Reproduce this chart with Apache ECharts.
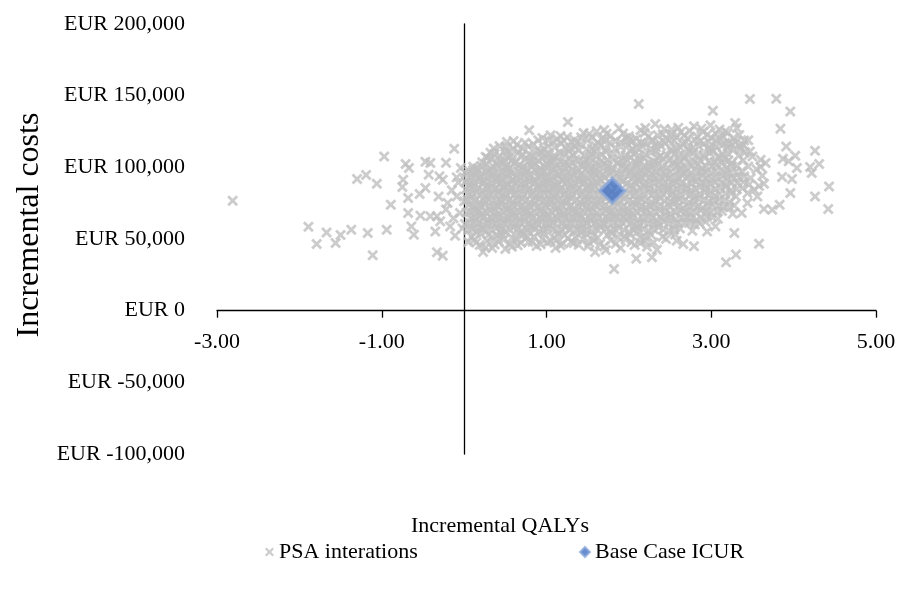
<!DOCTYPE html>
<html>
<head>
<meta charset="utf-8">
<title>PSA scatter</title>
<script src="https://cdn.jsdelivr.net/npm/echarts/dist/echarts.min.js"></script>
<style>
  html, body { margin: 0; padding: 0; background: #fff; }
  #main { width: 897px; height: 589px; }
</style>
</head>
<body>
<div id="main"></div>
<script>
// incremental QALYs, incremental costs (EUR thousand)
const leftTail = [
  [-2.81,76.7],[-1.89,58.6],[-1.79,46.5],[-1.67,54.6],[-1.56,47.2],[-1.5,52.8],[-1.37,56.5],[-1.17,54.2],
  [-1.11,38.6],[-0.94,56.5],[-1.3,91.9],[-1.19,94.7],[-1.06,88.6],[-0.97,107.6],[-0.89,73.9],[-0.71,102.3],
  [-0.67,99.5],[-0.74,91.4],[-0.75,86.3],[-0.68,78.6],[-0.68,68.1],[-0.64,58.8],[-0.61,53.0],[-0.47,103.9],
  [-0.41,103.0],[-0.22,103.2],[-0.12,113.0],[-0.43,94.9],[-0.3,93.7],[-0.26,91.4],[-0.09,93.0],[-0.54,81.4],
  [-0.47,85.6],[-0.31,79.7],[-0.53,66.3],[-0.41,65.8],[-0.33,65.8],[-0.29,62.3],[-0.35,55.3],[-0.17,58.8],
  [-0.11,52.3],[-0.33,40.7],[-0.26,38.4],[-0.09,79.7],[-0.05,68.1],[-0.04,99.6],[-0.07,89.4],[-0.15,84.0],
  [-0.2,75.2],[-0.13,64.5],[-0.02,57.4],[-0.22,70.6]
]

const psaCore = [
  // top fringe
  [0.79,125.8],[1.26,131.6],[2.12,144.2],[2.32,130.2],[1.45,124.0],[1.61,125.1],[1.73,123.5],[2.14,125.8],
  [1.05,122.4],[1.88,127.2],[2.41,123.1],[2.63,124.7],[2.95,122.8],[1.34,119.0],[0.52,117.7],[0.64,115.8],
  [0.95,120.5],[1.13,119.8],[1.25,121.2],[1.56,120.6],[1.96,120.5],[2.24,121.7],[2.71,120.2],[3.1,119.4],
  [2.05,118.3],[2.49,118.9],[2.86,118.1],[3.22,117.0],
  [1.02,118.8],[1.17,121.9],[1.3,117.8],[1.42,121.0],[1.52,123.3],[1.67,119.6],[1.78,121.8],[1.84,118.4],
  [1.93,123.6],[2.0,121.6],[2.09,119.9],[2.19,123.9],[2.28,119.1],[2.35,122.4],[2.45,120.3],[2.52,123.5],
  [2.58,120.8],[2.67,122.3],[2.74,125.3],[2.83,121.5],[2.9,124.6],[3.0,120.7],[3.05,123.8],[3.14,121.6],
  [3.2,124.0],[3.27,120.4],[3.34,122.6],[3.4,118.7],[2.43,126.8],[2.6,127.6],[2.88,127.0],[3.1,126.4],
  [2.2,127.4],[1.7,126.0],[2.99,129.3],[3.25,116.0],[3.38,115.9],[3.45,118.9],
  // 112 - 117
  [0.43,114.9],[0.71,113.0],[0.84,116.2],[0.92,111.1],[1.02,114.7],[1.18,116.8],[1.29,113.4],
  [1.41,116.1],[1.49,112.6],[1.66,115.3],[1.77,117.4],[1.83,113.2],[1.99,115.8],[2.1,113.6],[2.19,116.6],
  [2.33,114.1],[2.44,116.9],[2.57,113.3],[2.66,115.9],[2.78,113.8],[2.91,116.4],[3.0,113.0],[3.13,115.2],
  [3.27,112.2],
  // 107 - 112
  [0.26,107.4],[0.37,109.5],[0.49,111.3],[0.57,108.2],[0.66,110.7],[0.79,108.9],
  [0.88,111.6],[0.99,109.1],[1.08,107.5],[1.16,110.4],[1.32,108.7],[1.39,111.8],[1.54,109.4],[1.61,107.3],
  [1.72,110.9],[1.9,108.5],[2.02,111.0],[2.13,108.0],[2.27,110.2],[2.38,107.8],[2.52,110.9],[2.61,108.4],
  [2.73,111.2],[2.83,108.9],[2.98,110.3],[3.08,107.6],[3.2,109.8],[3.33,108.1],[3.41,110.5],
  // 103 - 107
  [0.22,103.6],[0.33,105.9],[0.44,104.0],[0.53,106.6],[0.62,103.3],[0.74,105.7],
  [0.83,103.9],[0.95,106.2],[1.04,104.3],[1.12,106.9],[1.22,103.5],[1.35,105.4],[1.45,103.9],[1.53,106.3],
  [1.67,104.6],[1.8,106.1],[1.87,103.2],[1.97,105.3],[2.08,103.8],[2.18,106.7],[2.3,104.2],[2.42,105.9],
  [2.56,103.4],[2.68,106.0],[2.79,104.1],[2.92,106.5],[3.04,103.7],[3.16,105.8],[3.25,103.1],[3.39,104.9],
  // 99 - 103
  [0.16,99.2],[0.27,102.1],[0.36,100.3],[0.47,102.6],[0.55,99.5],[0.67,101.4],[0.76,99.1],
  [0.87,102.3],[0.98,100.6],[1.06,102.8],[1.17,99.8],[1.27,101.6],[1.37,99.3],[1.5,102.0],[1.59,100.1],
  [1.7,102.5],[1.79,99.6],[1.92,101.3],[2.03,99.2],[2.12,101.9],[2.25,100.4],[2.35,102.7],[2.47,99.9],
  [2.59,101.5],[2.7,99.4],[2.84,102.2],[2.94,100.2],[3.07,101.8],[3.19,99.7],[3.31,101.3],[3.45,100.6],
  // 95 - 99
  [0.01,96.4],[0.11,98.2],[0.21,95.3],[0.3,97.6],[0.41,95.8],[0.51,98.4],[0.6,96.1],[0.71,98.0],
  [0.8,95.2],[0.91,97.3],[1.01,95.6],[1.1,98.5],[1.2,96.2],[1.31,98.1],[1.42,95.5],[1.52,97.8],
  [1.63,95.9],[1.74,98.3],[1.86,96.0],[1.95,98.6],[2.07,95.4],[2.16,97.5],[2.28,95.7],[2.39,98.2],
  [2.5,96.3],[2.62,98.0],[2.74,95.3],[2.87,97.6],[2.99,95.8],[3.12,98.1],[3.23,96.0],[3.37,97.3],
  // 91 - 95
  [0.04,92.1],[0.14,94.3],[0.24,91.2],[0.34,93.6],[0.45,91.8],[0.54,94.5],[0.64,92.0],[0.73,94.1],
  [0.85,91.4],[0.94,93.9],[1.04,91.6],[1.14,94.6],[1.24,92.3],[1.33,94.0],[1.45,91.3],[1.55,93.7],
  [1.65,91.9],[1.76,94.4],[1.89,92.2],[1.99,93.8],[2.1,91.5],[2.2,94.2],[2.31,92.0],[2.44,93.5],
  [2.54,91.2],[2.65,94.3],[2.77,92.1],[2.89,93.9],[3.01,91.6],[3.14,94.0],[3.27,92.4],[3.4,93.8],
  // 87 - 91
  [0.07,88.0],[0.18,90.3],[0.28,87.6],[0.39,89.8],[0.48,87.3],[0.58,90.5],[0.69,88.2],[0.79,90.1],
  [0.9,87.5],[0.99,89.7],[1.09,87.9],[1.19,90.4],[1.29,88.1],[1.4,90.2],[1.5,87.4],[1.6,89.6],
  [1.71,87.8],[1.92,89.9],[2.03,87.6],[2.13,90.6],[2.24,88.3],[2.36,90.0],[2.48,87.7],[2.58,89.5],
  [2.7,87.2],[2.82,90.2],[2.93,88.4],[3.05,89.8],[3.18,87.5],[3.32,89.1],[3.46,88.0],
  // 83 - 87
  [0.02,84.5],[0.12,86.6],[0.23,83.9],[0.33,86.2],[0.43,84.1],[0.53,86.8],[0.63,84.6],[0.74,86.5],
  [0.84,83.7],[0.94,86.1],[1.03,84.3],[1.13,86.9],[1.23,84.0],[1.33,86.4],[1.44,83.6],[1.54,85.9],
  [1.64,84.2],[2.0,86.3],[2.09,83.8],[2.19,86.7],[2.31,84.4],[2.42,86.0],[2.53,83.5],[2.64,86.2],
  [2.76,84.1],[2.87,86.6],[2.99,83.9],[3.11,85.8],[3.24,84.0],[3.38,85.5],
  // 79 - 83
  [0.05,80.6],[0.15,82.4],[0.26,79.8],[0.35,82.0],[0.46,80.3],[0.56,82.7],[0.66,80.1],[0.77,82.3],
  [0.87,79.6],[0.97,81.8],[1.07,80.4],[1.16,82.9],[1.26,80.0],[1.36,82.5],[1.47,79.5],[1.57,81.6],
  [1.68,80.2],[1.79,82.6],[1.9,79.9],[2.01,81.7],[2.12,79.4],[2.24,82.1],[2.35,80.5],[2.46,82.8],
  [2.57,79.8],[2.69,81.9],[2.8,79.3],[2.92,82.4],[3.04,80.0],[3.17,81.5],[3.3,79.6],
  // 75 - 79
  [0.0,76.3],[0.09,78.4],[0.19,75.6],[0.29,77.9],[0.4,75.8],[0.5,78.6],[0.59,76.2],[0.7,78.1],
  [0.8,75.4],[0.91,77.7],[1.0,75.9],[1.1,78.8],[1.2,76.4],[1.3,78.2],[1.41,75.5],[1.51,77.4],
  [1.61,75.9],[1.72,78.5],[1.83,76.1],[1.94,78.0],[2.05,75.7],[2.15,77.8],[2.27,75.3],[2.38,78.4],
  [2.5,76.0],[2.61,77.6],[2.73,75.5],[2.85,78.2],[2.97,76.3],[3.1,77.5],[3.22,75.8],
  // 71 - 75
  [0.06,73.8],[0.16,71.3],[0.25,74.1],[0.36,71.7],[0.45,74.6],[0.55,72.0],[0.65,74.3],[0.75,71.5],
  [0.85,73.9],[0.95,71.2],[1.05,74.4],[1.14,72.3],[1.24,74.8],[1.34,71.6],[1.44,73.7],[1.55,71.9],
  [1.65,74.5],[1.76,72.1],[1.87,74.0],[1.98,71.4],[2.09,73.6],[2.2,71.8],[2.31,74.2],[2.43,72.0],
  [2.54,74.7],[2.66,71.3],[2.78,73.8],[2.9,71.7],[3.02,74.1],[3.15,72.4],[3.28,73.3],
  // 67 - 71
  [0.03,68.5],[0.12,70.1],[0.22,67.4],[0.32,69.8],[0.42,67.9],[0.52,70.4],[0.61,68.2],[0.71,70.0],
  [0.81,67.6],[0.92,69.6],[1.01,67.3],[1.11,70.3],[1.21,68.0],[1.31,69.5],[1.4,67.5],[1.51,70.2],
  [1.61,68.4],[1.72,69.9],[1.82,67.2],[1.93,69.4],[2.04,67.8],[2.15,70.5],[2.26,68.1],[2.37,69.7],
  [2.5,67.4],[2.62,69.9],[2.75,67.9],[2.87,70.1],[3.0,68.3],[3.13,69.6],[3.26,67.6],
  // 63 - 67
  [0.08,64.2],[0.18,66.3],[0.28,63.5],[0.38,65.9],[0.48,63.8],[0.57,66.6],[0.67,64.1],[0.77,66.0],
  [0.88,63.4],[0.97,65.7],[1.07,63.9],[1.17,66.5],[1.27,64.3],[1.37,66.2],[1.47,63.6],[1.57,65.5],
  [1.68,63.8],[1.78,66.4],[1.89,64.5],[2.0,66.1],[2.11,63.7],[2.22,65.8],[2.33,63.4],[2.45,66.3],
  [2.57,64.0],[2.7,65.6],[2.82,63.5],[2.95,65.9],[3.08,64.2],
  // 59 - 63
  [0.01,60.4],[0.13,62.2],[0.24,59.7],[0.34,61.9],[0.44,59.9],[0.53,62.6],[0.63,60.3],[0.73,62.1],
  [0.84,59.5],[0.94,61.7],[1.03,60.0],[1.13,62.7],[1.24,59.8],[1.34,61.5],[1.44,60.2],[1.54,62.4],
  [1.64,59.6],[1.75,61.8],[1.86,60.1],[1.97,62.5],[2.07,59.4],[2.18,61.6],[2.3,60.0],[2.42,62.3],
  [2.54,59.7],[2.67,61.9],[2.8,60.2],[2.93,62.0],
  // 55 - 59
  [0.05,56.3],[0.16,58.1],[0.27,55.6],[0.39,57.7],[0.5,55.2],[0.6,57.9],[0.7,55.8],[0.81,58.3],
  [0.91,55.4],[1.01,57.5],[1.12,55.9],[1.23,58.0],[1.33,55.3],[1.43,57.4],[1.55,55.7],[1.66,58.2],
  [1.77,55.5],[1.88,57.6],[2.0,55.1],[2.11,57.8],[2.24,55.6],[2.36,58.1],[2.49,55.4],[2.62,57.3],
  [2.77,55.8],
  // 50 - 55
  [0.09,51.6],[0.2,53.8],[0.33,51.0],[0.46,53.5],[0.58,50.8],[0.72,53.1],[0.85,51.4],[0.97,53.9],
  [1.09,50.6],[1.22,52.7],[1.35,51.2],[1.48,53.6],[1.62,50.9],[1.74,52.8],[1.87,51.3],[2.01,53.4],
  [2.14,50.7],[2.27,52.9],[2.41,51.5],[2.56,53.2],
  [0.44,54.3],[0.67,53.9],[0.79,54.6],[1.15,53.8],[1.42,54.4],[1.57,52.3],[1.8,54.0],[1.95,52.0],
  [2.1,54.7],[2.2,51.2],[0.3,53.0],[0.15,54.5],
  // 44 - 50
  [0.12,49.2],[0.19,45.8],[0.28,48.6],[0.37,46.1],[0.4,52.4],[0.48,49.5],[0.55,46.7],[0.63,49.9],
  [0.69,47.3],[0.76,51.0],[0.83,48.1],[0.88,45.2],[0.95,50.1],[1.01,47.6],[1.12,49.4],[1.2,46.8],
  [1.26,50.6],[1.33,47.2],[1.44,49.8],[1.5,44.9],[1.57,48.9],[1.65,46.3],[1.78,49.1],[1.84,46.6],
  [1.96,49.6],[2.07,45.9],[2.19,49.0],[2.3,47.5],[0.26,44.1],[0.58,44.6],[1.11,43.8],[1.72,42.3],
  [0.05,47.9],
  // bottom fringe
  [0.23,40.9],[0.34,43.7],[0.5,43.0],[0.65,45.6],[0.15,47.5],[0.42,48.2],[0.78,47.9],[0.93,46.3],
  [1.05,48.6],[1.17,45.6],[1.3,48.1],[1.39,46.0],[1.52,47.4],[1.59,40.9],[1.7,44.8],[1.82,29.1],
  [1.9,43.7],[2.03,47.8],[2.09,36.3],[2.14,47.2],[2.22,44.6],[2.28,37.2],[2.34,42.5],[2.58,48.8]
]

// the solid middle of the cloud, where the crosses overlap
const psaDense = [
  [0.6,118.3],[0.74,117.1],[0.9,118.9],[1.09,117.4],[1.21,118.6],[1.37,117.0],[1.5,118.8],[1.62,117.3],
  [1.71,119.2],[1.9,117.6],[2.01,119.0],[2.15,117.2],[2.29,118.5],[2.37,117.0],[2.55,118.7],[2.69,117.5],
  [2.8,119.1],[2.97,117.8],[3.06,118.9],[3.17,117.1],[3.3,117.6],
  [0.36,113.1],[0.5,114.2],[0.6,112.8],[0.78,114.6],[0.97,113.2],[1.1,114.1],[1.24,112.9],
  [1.35,114.4],[1.55,113.0],[1.6,114.8],[1.72,112.7],[1.9,114.3],[2.04,112.9],[2.16,114.5],[2.27,113.1],
  [2.39,114.9],[2.51,112.8],[2.62,114.2],[2.72,113.0],[2.85,114.7],[2.96,113.2],[3.06,114.4],[3.2,113.6],
  [3.36,112.6],
  [0.32,110.2],[0.43,108.1],[0.53,110.9],[0.71,109.0],[0.83,107.9],[0.94,110.4],[1.03,108.7],[1.21,109.3],
  [1.27,111.2],[1.46,108.2],[1.58,111.4],[1.67,108.6],[1.81,109.7],[1.96,108.3],[2.07,109.5],[2.2,108.9],
  [2.33,111.6],[2.46,108.6],[2.56,109.7],[2.68,107.6],[2.78,110.1],[2.91,108.2],[3.03,111.4],[3.14,108.9],
  [0.28,106.7],[0.39,103.2],[0.49,105.1],[0.58,104.6],[0.69,107.2],[0.79,104.3],
  [0.9,104.8],[1.0,103.1],[1.08,105.6],[1.17,103.9],[1.29,106.3],[1.4,104.8],[1.49,105.0],[1.6,103.4],
  [1.74,105.2],[1.92,104.4],[2.02,106.8],[2.13,104.7],[2.24,103.3],[2.36,106.5],[2.49,104.9],[2.62,104.4],
  [2.73,103.0],[2.86,105.1],[2.98,104.4],[3.1,106.9],[3.21,104.7],
  [0.11,100.4],[0.21,101.0],[0.32,99.0],[0.41,101.4],[0.51,100.9],[0.61,102.9],[0.71,100.2],[0.82,100.7],
  [0.92,99.4],[1.02,101.7],[1.12,101.2],[1.22,100.5],[1.32,102.9],[1.44,100.8],[1.55,99.0],[1.65,101.1],
  [1.75,100.9],[1.86,102.6],[1.97,100.1],[2.08,101.3],[2.19,99.6],[2.3,101.7],[2.41,100.6],[2.53,102.4],
  [2.64,100.3],[2.77,101.2],[2.89,99.3],[3.01,100.8],[3.13,102.6],[3.25,100.9],
  [0.06,97.3],[0.16,96.6],[0.26,96.9],[0.36,95.4],[0.46,97.0],[0.56,96.9],[0.66,97.4],[0.76,96.5],
  [0.86,97.9],[0.96,96.3],[1.06,97.6],[1.15,95.2],[1.26,96.8],[1.37,96.5],[1.47,98.2],[1.58,96.7],
  [1.69,95.3],[1.8,97.2],[1.91,95.4],[2.02,97.0],[2.12,96.4],[2.23,98.6],[2.34,96.8],[2.45,95.3],
  [2.57,97.1],[2.68,96.0],[2.81,97.2],[2.93,96.6],[3.05,97.3],[3.18,95.6],[3.3,96.9],
  [0.09,93.3],[0.19,92.7],[0.29,93.0],[0.4,92.4],[0.5,92.9],[0.59,91.4],[0.69,93.3],[0.79,92.6],
  [0.9,93.5],[0.99,92.6],[1.09,93.2],[1.19,91.2],[1.29,93.5],[1.39,92.4],[1.5,92.6],[1.6,94.5],
  [1.71,92.9],[1.82,93.3],[1.94,91.0],[2.05,92.7],[2.15,93.2],[2.26,92.9],[2.38,93.6],[2.49,92.4],
  [2.6,92.7],[2.71,93.4],[2.83,92.9],[2.95,92.3],[3.08,93.1],[3.2,91.3],[3.34,92.8],
  [0.02,89.9],[0.12,89.0],[0.23,89.2],[0.33,88.7],[0.44,89.0],[0.53,88.4],[0.63,89.3],[0.74,88.7],
  [0.85,89.1],[0.95,88.4],[1.04,89.0],[1.14,88.8],[1.24,89.4],[1.35,88.7],[1.45,89.2],[1.55,88.6],
  [1.66,90.4],[1.77,89.2],[1.87,88.5],[1.98,88.7],[2.08,89.4],[2.19,88.6],[2.3,89.2],[2.42,88.8],
  [2.53,88.6],[2.64,88.9],[2.76,88.7],[2.88,89.6],[2.99,88.1],[3.12,88.9],[3.25,89.3],[3.39,89.8],
  [0.07,85.7],[0.17,85.2],[0.28,85.3],[0.38,84.8],[0.48,85.6],[0.58,85.2],[0.68,85.3],[0.79,84.9],
  [0.89,85.4],[0.99,85.0],[1.08,85.8],[1.18,85.3],[1.28,85.0],[1.39,84.8],[1.49,85.3],[1.59,86.6],
  [1.69,85.7],[2.05,85.2],[2.14,85.5],[2.25,85.0],[2.37,85.6],[2.48,84.8],[2.59,85.0],[2.7,85.3],
  [2.81,84.9],[2.93,85.4],[3.05,85.1],[3.18,86.7],[3.31,84.7],
  [0.1,81.5],[0.2,81.0],[0.31,81.2],[0.41,81.9],[0.51,81.4],[0.61,81.0],[0.72,81.3],[0.82,81.0],
  [0.92,81.1],[1.02,80.9],[1.12,81.6],[1.21,81.3],[1.31,81.2],[1.42,80.9],[1.52,81.4],[1.63,81.0],
  [1.74,80.8],[1.84,81.2],[1.95,81.0],[2.06,80.6],[2.18,81.1],[2.29,81.3],[2.41,81.6],[2.52,81.2],
  [2.63,80.7],[2.75,81.1],[2.86,81.0],[2.98,80.9],[3.1,81.2],[3.24,81.7],
  [0.04,77.4],[0.14,76.9],[0.24,77.0],[0.35,76.7],[0.45,77.1],[0.55,77.3],[0.65,77.0],[0.75,76.8],
  [0.86,76.5],[0.96,76.7],[1.05,77.2],[1.15,77.5],[1.25,77.1],[1.36,76.9],[1.46,76.5],[1.56,76.6],
  [1.66,77.0],[1.78,77.3],[1.89,76.9],[2.0,76.8],[2.1,76.7],[2.21,76.6],[2.33,76.8],[2.44,76.5],
  [2.56,76.8],[2.67,76.6],[2.79,76.8],[2.91,77.2],[3.03,76.9],[3.16,76.5],
  [0.11,72.6],[0.21,72.8],[0.31,72.7],[0.41,73.1],[0.5,73.3],[0.6,73.1],[0.7,72.9],[0.8,72.6],
  [0.9,72.5],[1.0,72.8],[1.1,73.4],[1.19,73.5],[1.29,73.2],[1.39,72.7],[1.49,72.8],[1.6,73.2],
  [1.71,73.3],[1.82,73.1],[1.93,72.7],[2.04,72.5],[2.15,73.0],[2.26,72.9],[2.37,73.1],[2.49,73.4],
  [2.6,73.0],[2.72,72.5],[2.84,72.8],[2.96,72.9],[3.09,73.2],[3.22,72.1],
  [0.07,69.3],[0.17,68.8],[0.27,68.6],[0.37,68.9],[0.47,69.1],[0.57,69.3],[0.66,69.1],[0.76,68.8],
  [0.86,68.6],[0.97,68.5],[1.06,68.8],[1.16,69.2],[1.26,68.8],[1.36,68.5],[1.46,68.9],[1.56,69.3],
  [1.67,69.2],[1.77,68.6],[1.88,68.3],[1.99,68.6],[2.1,69.2],[2.21,69.3],[2.32,68.9],[2.44,68.6],
  [2.56,68.7],[2.69,68.9],[2.81,69.0],[2.94,69.2],[3.07,69.0],
  [0.13,65.2],[0.23,64.9],[0.33,64.7],[0.43,64.9],[0.53,65.2],[0.62,65.4],[0.72,65.1],[0.83,64.7],
  [0.93,64.6],[1.02,64.8],[1.12,65.2],[1.22,65.4],[1.32,65.2],[1.42,64.9],[1.52,64.6],[1.63,64.7],
  [1.73,65.1],[1.84,65.4],[1.94,65.3],[2.05,65.0],[2.16,64.8],[2.28,64.6],[2.39,64.9],[2.51,65.2],
  [2.64,64.8],[2.76,64.6],[2.88,64.7],[3.01,65.1],
  [0.07,61.3],[0.18,61.0],[0.29,60.8],[0.39,60.9],[0.49,61.2],[0.58,61.4],[0.68,61.2],[0.79,60.8],
  [0.89,60.6],[0.99,60.9],[1.08,61.3],[1.19,61.2],[1.29,60.7],[1.39,60.9],[1.49,61.3],[1.59,61.0],
  [1.7,60.7],[1.81,61.0],[1.92,61.3],[2.02,61.0],[2.13,60.6],[2.24,60.8],[2.36,61.2],[2.48,61.0],
  [2.6,60.8],[2.73,61.1],[2.86,60.9],
  [0.1,57.2],[0.22,56.9],[0.33,56.7],[0.45,56.4],[0.55,56.6],[0.65,56.9],[0.76,57.1],[0.86,56.8],
  [0.96,56.5],[1.07,56.7],[1.18,57.0],[1.28,56.6],[1.38,56.4],[1.49,56.6],[1.61,57.0],[1.72,56.9],
  [1.83,56.6],[1.94,56.3],[2.06,56.5],[2.17,56.9],[2.3,56.8],[2.42,56.5],[2.55,56.4]
]

const rightTail = [
  [3.47,147.7],[3.79,147.9],[3.96,139.0],[3.02,139.5],[3.29,130.9],[3.84,127.0],[3.91,114.6],[4.26,111.6],
  [4.02,108.1],[3.87,106.0],[3.94,104.2],[4.31,102.3],[4.2,100.2],[4.04,99.5],[3.6,100.2],[4.22,96.0],
  [3.86,93.3],[3.98,91.9],[3.64,88.6],[4.43,86.7],[3.96,82.1],[4.26,79.7],[4.42,70.9],[3.83,73.9],
  [3.74,70.4],[3.64,70.9],[3.37,68.1],[3.28,54.2],[3.58,46.7],[3.3,39.1],[3.18,33.7],[2.79,44.9],
  [2.66,46.5],[2.45,50.0],[2.95,55.3],[3.05,58.8],[3.52,84.4],[3.56,79.7],[3.44,75.1],[3.35,114.6],
  [3.47,111.1],[3.6,105.3],[3.31,127.5],[3.17,125.1],[2.79,128.6],[2.52,126.3],[3.48,92.6],[3.55,98.7],
  [3.62,94.1],[3.44,81.9],[3.58,87.0],[3.66,103.0],[3.5,107.5]
]

const baseCase = [[1.80, 83.7]]

const seriesNames = ['PSA interations', 'Base Case ICUR']
const xRange = [-3, 5, 2]
const yRange = [-100000, 200000, 50000]

const FONT = 'Liberation Serif'
const grey = '#BFBFBF'
const xMark = 'path://M0,1.8L1.8,0L5,3.2L8.2,0L10,1.8L6.8,5L10,8.2L8.2,10L5,6.8L1.8,10L0,8.2L3.2,5Z'

const W = 897, H = 589
const gridTop = 24, gridBottom = 135
const plotH = H - gridTop - gridBottom
// x axis line sits on cost = 0, labels follow it
const xAxisOffset = -plotH * (0 - yRange[0]) / (yRange[1] - yRange[0])

const toEur = p => [p[0], p[1] * 1000]
const psaData = leftTail.concat(psaCore, psaDense, rightTail).map(toEur)

const chart = echarts.init(document.getElementById('main'))
const txt = { fontFamily: FONT, color: '#000' }

chart.setOption({
  animation: false,
  grid: { left: 217, right: 21, top: gridTop, bottom: gridBottom, outerBoundsMode: 'none' },
  legend: [
    { data: [seriesNames[0]], left: 260, top: 536, itemWidth: 9, itemHeight: 9,
      textStyle: Object.assign({ fontSize: 22 }, txt) },
    { data: [seriesNames[1]], left: 574, top: 536, itemWidth: 10, itemHeight: 10,
      textStyle: Object.assign({ fontSize: 22 }, txt) }
  ],
  xAxis: {
    type: 'value', min: xRange[0], max: xRange[1], interval: xRange[2],
    offset: xAxisOffset,
    name: 'Incremental QALYs', nameLocation: 'middle', nameGap: 205,
    nameTextStyle: Object.assign({ fontSize: 22, padding: [0, 93, 0, 0] }, txt),
    axisLine: { onZero: false, lineStyle: { color: '#000', width: 1.3 } },
    axisTick: { length: 7, lineStyle: { color: '#000', width: 1.3 } },
    axisLabel: Object.assign({ margin: 21, fontSize: 22, formatter: v => v.toFixed(2) }, txt),
    splitLine: { show: false }
  },
  yAxis: [
    {
      type: 'value', min: yRange[0], max: yRange[1], interval: yRange[2],
      name: 'Incremental costs', nameLocation: 'middle', nameGap: 170,
      nameTextStyle: Object.assign({ fontSize: 32, padding: [0, 0, 0, 28] }, txt),
      axisLine: { show: false, onZero: false },
      axisTick: { show: false },
      axisLabel: Object.assign({ margin: 32, fontSize: 22,
        formatter: v => 'EUR ' + v.toLocaleString('en-US') }, txt),
      splitLine: { show: false }
    },
    {
      // the vertical line through x = 0
      type: 'value', min: yRange[0], max: yRange[1], interval: yRange[2],
      axisLine: { show: true, onZero: true, lineStyle: { color: '#000', width: 1.3 } },
      axisTick: { show: false }, axisLabel: { show: false }, splitLine: { show: false }
    }
  ],
  series: [
    {
      name: seriesNames[0], type: 'scatter', symbol: xMark, symbolSize: 11,
      itemStyle: { color: grey }, data: psaData, z: 2
    },
    {
      name: seriesNames[1], type: 'scatter', symbol: 'diamond', symbolSize: 25,
      itemStyle: { color: '#4472C4', borderColor: '#8EAADB', borderWidth: 3 },
      data: baseCase.map(toEur), z: 3
    }
  ]
})
</script>
</body>
</html>
